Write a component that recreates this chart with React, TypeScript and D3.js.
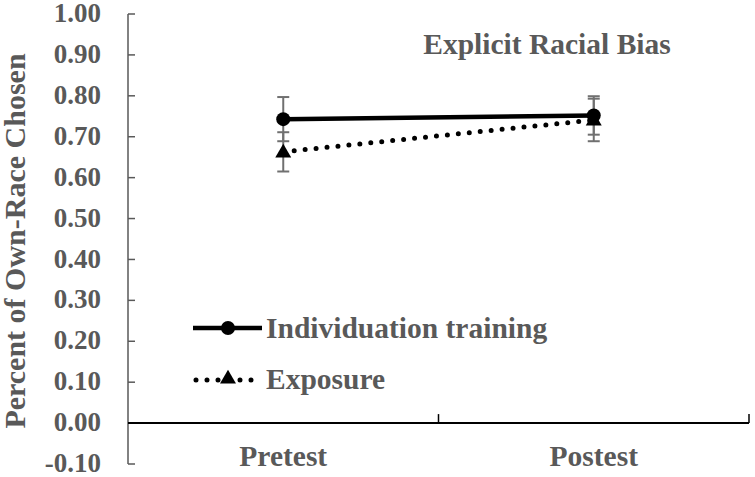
import React from 'react';
import * as d3 from 'd3';

const phases = ['Pretest', 'Postest'];
const individuation = [0.743, 0.752];
const individuationErr = [0.054, 0.047];
const exposure = [0.663, 0.741];
const exposureErr = [0.048, 0.052];
const yTicks = [-0.1, 0, 0.1, 0.2, 0.3, 0.4, 0.5, 0.6, 0.7, 0.8, 0.9, 1.0];

const W = 755;
const H = 477;
const textColor = '#595959';
const font = '"Liberation Serif", "Times New Roman", serif';

const App = () => {
  const x = d3.scaleBand().domain(phases).range([128, 749]).padding(0);
  const y = d3.scaleLinear().domain([-0.1, 1.0]).range([464, 14]);
  const cx = (d) => x(d) + x.bandwidth() / 2;

  const line = d3
    .line()
    .x((d) => cx(d.phase))
    .y((d) => y(d.value));

  const indData = phases.map((p, i) => ({ phase: p, value: individuation[i], err: individuationErr[i] }));
  const expData = phases.map((p, i) => ({ phase: p, value: exposure[i], err: exposureErr[i] }));

  const tri = d3.symbol().type(d3.symbolTriangle).size(110);

  const errBars = (data, key) =>
    data.map((d, i) => {
      const xx = cx(d.phase);
      const top = y(d.value + d.err);
      const bot = y(d.value - d.err);
      return (
        <g key={key + i} stroke="#707070" strokeWidth={2}>
          <line x1={xx} x2={xx} y1={top} y2={bot} />
          <line x1={xx - 6} x2={xx + 6} y1={top} y2={top} />
          <line x1={xx - 6} x2={xx + 6} y1={bot} y2={bot} />
        </g>
      );
    });

  return (
    <svg
      width={W}
      height={H}
      style={{ position: 'absolute', left: 0, top: 0, background: '#fff' }}
      fontFamily={font}
      fontWeight="bold"
    >
      {/* y axis */}
      <line x1={128} x2={128} y1={y(1.0)} y2={y(-0.1)} stroke={textColor} strokeWidth={1.5} />
      {yTicks.map((t) => (
        <g key={t}>
          <line x1={128} x2={135} y1={y(t)} y2={y(t)} stroke={textColor} strokeWidth={1.5} />
          <text x={101} y={y(t)} dy="0.3em" textAnchor="end" fontSize={27} fill={textColor}>
            {t.toFixed(2)}
          </text>
        </g>
      ))}
      <text
        transform="translate(25, 241) rotate(-90)"
        textAnchor="middle"
        fontSize={30}
        fill={textColor}
      >
        Percent of Own-Race Chosen
      </text>

      {/* x axis at zero */}
      <line x1={128} x2={749} y1={y(0)} y2={y(0)} stroke="#000" strokeWidth={2} />
      {[128 + x.bandwidth(), 749].map((xx) => (
        <line key={xx} x1={xx} x2={xx} y1={y(0)} y2={y(0) - 9} stroke="#000" strokeWidth={1.5} />
      ))}
      {phases.map((p) => (
        <text key={p} x={cx(p)} y={466} textAnchor="middle" fontSize={29.5} fill={textColor}>
          {p}
        </text>
      ))}

      <text x={547} y={54} textAnchor="middle" fontSize={29.5} fill={textColor}>
        Explicit Racial Bias
      </text>

      {errBars(indData, 'i')}
      {errBars(expData, 'e')}

      <path
        d={line(expData)}
        fill="none"
        stroke="#000"
        strokeWidth={5}
        strokeDasharray="0 11"
        strokeLinecap="round"
      />
      {expData.map((d, i) => (
        <path key={i} d={tri()} transform={`translate(${cx(d.phase)}, ${y(d.value) + 1})`} fill="#000" />
      ))}
      <path d={line(indData)} fill="none" stroke="#000" strokeWidth={4.5} />
      {indData.map((d, i) => (
        <circle key={i} cx={cx(d.phase)} cy={y(d.value)} r={7} fill="#000" />
      ))}

      {/* legend */}
      <line x1={193} x2={262} y1={328} y2={328} stroke="#000" strokeWidth={4.5} />
      <circle cx={228} cy={328} r={7} fill="#000" />
      <text x={266} y={338} fontSize={29.5} fill={textColor}>
        Individuation training
      </text>
      <line
        x1={196}
        x2={262}
        y1={380}
        y2={380}
        stroke="#000"
        strokeWidth={5}
        strokeDasharray="0 11"
        strokeLinecap="round"
      />
      <path d={tri()} transform="translate(228, 379)" fill="#000" />
      <text x={266} y={389} fontSize={29.5} fill={textColor}>
        Exposure
      </text>
    </svg>
  );
};

export default App;
